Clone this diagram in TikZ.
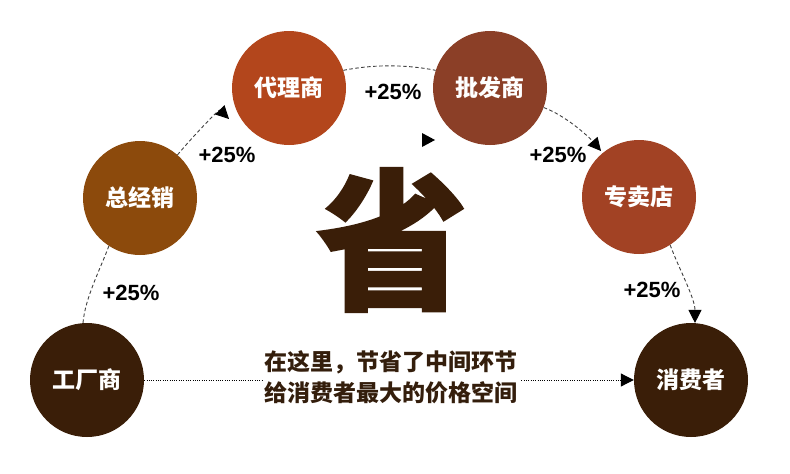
\documentclass[tikz,border=0pt]{standalone}
\usepackage{fontspec}
\setmainfont{Liberation Sans}
\newfontfamily\cjk{Noto Sans CJK SC}
\newfontfamily\cjkheavy[BoldFeatures={FakeBold=1.2}]{Noto Sans CJK SC}
\usetikzlibrary{arrows.meta}
\definecolor{cEnd}{RGB}{58,30,8}
\definecolor{cZjx}{RGB}{140,74,12}
\definecolor{cDls}{RGB}{179,70,28}
\definecolor{cPfs}{RGB}{139,63,39}
\definecolor{cZmd}{RGB}{162,66,36}
\definecolor{cTxt}{RGB}{52,30,12}
\begin{document}
\begin{tikzpicture}[x=1pt,y=-1pt,
  ball/.style={circle,minimum size=114pt,inner sep=0pt,text=white,
    font=\cjk\bfseries\fontsize{23}{23}\selectfont},
  pct/.style={font=\bfseries\fontsize{22}{22}\selectfont,text=black,inner sep=0pt},
  dashlink/.style={draw=black!75,line width=0.9pt,dash pattern=on 3.5pt off 2.5pt},
  tipped/.style={-{Triangle[length=13pt,width=13pt,black]}},
  dotlink/.style={draw=black,line width=1pt,dash pattern=on 1pt off 1.3pt}
]
\useasboundingbox (0,0) rectangle (790,474);
\fill[white] (0,0) rectangle (790,474);

% big character
\node[inner sep=0pt,text=cEnd,font=\cjkheavy\bfseries\fontsize{152}{152}\selectfont] (sheng) at (392,240) {省};

% circles
\node[ball,fill=cEnd] (fac) at (87,380) {工厂商};
\node[ball,fill=cZjx] (zjx) at (140,198) {总经销};
\node[ball,fill=cDls] (dls) at (289,88) {代理商};
\node[ball,fill=cPfs] (pfs) at (490,88) {批发商};
\node[ball,fill=cZmd] (zmd) at (639,197) {专卖店};
\node[ball,fill=cEnd] (xfz) at (691,380) {消费者};

% free arrow ends
\coordinate (e2) at (229,119);
\coordinate (e4) at (601,151);

% dashed connectors
\draw[dashlink] (fac.94) .. controls +(2,-25) and +(-8,22) .. (zjx.237);
\draw[dashlink,tipped] (zjx.49) .. controls +(15,-18) and +(-10,-10) .. (e2);
\draw[dashlink] (dls.18) .. controls +(30,-6) and +(-30,-6) .. (pfs.162);
\draw[dashlink,tipped] (pfs.-20) .. controls +(22,8) and +(-12,-14) .. (e4);
\draw[dashlink,tipped] (zmd.-57) .. controls +(8,22) and +(0,-25) .. (xfz.86);

% lone arrowhead
\fill[black] (422,133) -- (435,140) -- (422,147) -- cycle;

% bottom dotted connector
\draw[dotlink,tipped] (fac.east) -- (xfz.west);

% bottom text
\node[fill=white,inner sep=2pt,text=cTxt,align=center,
  font=\cjk\bfseries\fontsize{23}{31}\selectfont] (msg) at (391,377)
  {在这里，节省了中间环节\\给消费者最大的价格空间};

% percentage labels
\node[pct] (p1) at (131,293) {+25\%};
\node[pct] (p2) at (227,155) {+25\%};
\node[pct] (p3) at (393,92) {+25\%};
\node[pct] (p4) at (558,155) {+25\%};
\node[pct] (p5) at (652,290) {+25\%};
\end{tikzpicture}
\end{document}
